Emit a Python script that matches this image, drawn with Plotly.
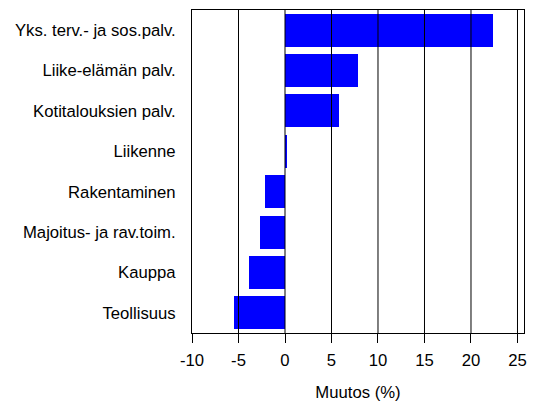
import plotly.graph_objects as go

categories = ["Yks. terv.- ja sos.palv.", "Liike-elämän palv.", "Kotitalouksien palv.",
              "Liikenne", "Rakentaminen", "Majoitus- ja rav.toim.", "Kauppa", "Teollisuus"]
muutos = [22.4, 7.8, 5.8, 0.15, -2.1, -2.7, -3.9, -5.5]
tick_vals = [-10, -5, 0, 5, 10, 15, 20, 25]
tick_text = ["-10", "-5", "0", "5", "10", "15", "20", "25"]

font = dict(family="Liberation Sans, Arial, sans-serif", size=16.7, color="black")

fig = go.Figure(go.Bar(
    x=muutos, y=categories, orientation="h",
    marker=dict(color="#0000FF", line=dict(width=0)),
    width=0.82,
))

shapes = [dict(type="line", xref="x", yref="paper", x0=v, x1=v, y0=0, y1=1,
               line=dict(color="black", width=1), layer="above")
          for v in tick_vals[1:]]

fig.update_layout(
    width=535, height=403,
    margin=dict(l=192, r=11, t=10, b=70, autoexpand=False),
    paper_bgcolor="white", plot_bgcolor="white",
    font=font, showlegend=False, bargap=0,
    shapes=shapes,
    xaxis=dict(range=[-10, 25.7], tickvals=tick_vals, ticktext=tick_text,
               showgrid=False, zeroline=False, showline=True, linecolor="black",
               linewidth=1, mirror=True, ticks="outside", ticklen=9, tickwidth=1,
               tickcolor="black", tickfont=font, automargin=False,
               ticklabelstandoff=3,
               title=dict(text="Muutos (%)", font=font, standoff=17)),
    yaxis=dict(categoryorder="array", categoryarray=categories, autorange=False,
               range=[7.5, -0.5], showgrid=False, zeroline=False, showline=True,
               linecolor="black", linewidth=1, mirror=True, ticks="",
               tickfont=font, ticklabelstandoff=12, automargin=False),
)

fig.write_html("out.html", config={"displayModeBar": False},
               post_script="document.body.style.margin='0';")
